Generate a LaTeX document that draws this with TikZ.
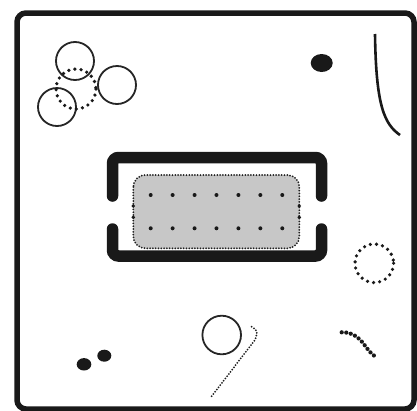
\documentclass[tikz,border=0pt]{standalone}
\begin{document}
\begin{tikzpicture}[x=1pt,y=-1pt,
  solidcirc/.style={line width=1.8pt, draw=black!85},
  bigdots/.style={line width=3.6pt, line cap=round, dash pattern=on 0pt off 6.2pt, draw=black!90},
  finedots/.style={line width=2pt, line cap=round, dash pattern=on 0pt off 2.8pt, draw=black!88},
  bracket/.style={line width=11.5pt, line cap=round, rounded corners=6pt, draw=black!90}]
\useasboundingbox (0,0) rectangle (417,410);
% frame
\draw[line width=5.5pt, rounded corners=9pt, draw=black!90] (17,13) rectangle (414,409);
% top-left circles
\draw[solidcirc] (75,61) circle (19);
\draw[solidcirc] (117,85) circle (19);
\draw[solidcirc] (57,107) circle (19);
\draw[bigdots] (76,89) circle (20);
% blob and curve top right
\fill[black!90] (321.7,63) ellipse (11 and 9);
\draw[line width=2.6pt, draw=black!90] (375,34) .. controls (376,105) and (384,124) .. (400,135);
% bracket
\draw[bracket] (112.5,196) -- (112.5,157.5) -- (321.5,157.5) -- (321.5,196);
\draw[bracket] (112.5,229) -- (112.5,256) -- (321.5,256) -- (321.5,229);
% gray box
\draw[fill=black!22, finedots, rounded corners=12pt] (133.3,175) rectangle (299.3,248.3);
\foreach \i in {0,...,6} {
  \fill[black!90] (150.7+21.93*\i,195) circle (2);
  \fill[black!90] (150.7+21.93*\i,228.3) circle (2);
}
\foreach \yy in {206,217.3} {
  \fill[black!90] (133.3,\yy) circle (1.9);
  \fill[black!90] (299.3,\yy) circle (1.9);
}
% dotted circle right
\draw[bigdots] (374.3,263.3) circle (19.3);
% bottom-left dots
\fill[black!90] (84,364.3) ellipse (7.3 and 6.2);
\fill[black!90] (104.3,355.7) ellipse (7 and 6);
% bottom circle and dotted line
\draw[solidcirc] (221.7,335) circle (19.3);
\draw[finedots] (251.7,326.7) .. controls (258,331) .. (255,340) -- (210,398.3);
% dotted curve bottom right
\draw[line width=4.2pt, line cap=round, dash pattern=on 0pt off 4.6pt, draw=black!90]
  (341.7,332.3) .. controls (352,332) and (358,337) .. (363.3,343.3) .. controls (368,350) and (372,355) .. (376.7,357.3);
\end{tikzpicture}
\end{document}
